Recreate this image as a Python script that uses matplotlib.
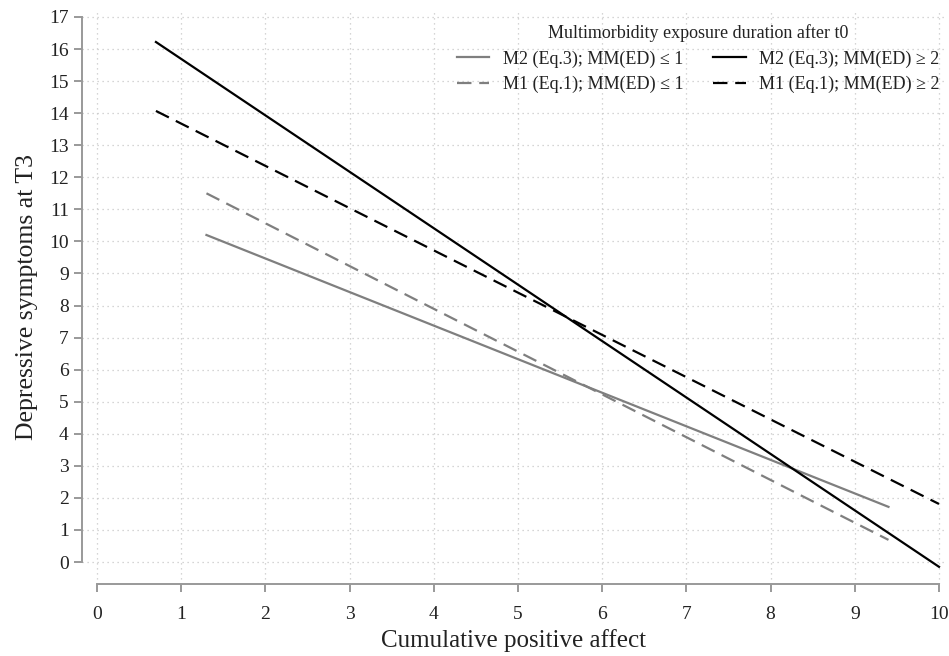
import matplotlib.pyplot as plt

plt.rcParams['font.family'] = ['Liberation Serif', 'DejaVu Serif']

# end points of the predicted lines (x = cumulative positive affect)
x_low = [1.3, 9.4]
x_high = [0.7, 10.0]
m2_low = [10.2, 1.72]
m1_low = [11.5, 0.69]
m2_high = [16.22, -0.15]
m1_high = [14.07, 1.81]

xticks = list(range(0, 11))
yticks = list(range(0, 18))

fig = plt.figure(figsize=(9.49, 6.56), dpi=100)
ax = fig.add_axes([82 / 949, 1 - 584 / 656, (945 - 82) / 949, (584 - 10) / 656])

gray = '#7f7f7f'
ax.plot(x_low, m2_low, color=gray, lw=1.6, label='M2 (Eq.3); MM(ED) \u2264 1')
ax.plot(x_low, m1_low, color=gray, lw=1.6, dashes=(6.5, 3.5), label='M1 (Eq.1); MM(ED) \u2264 1')
ax.plot(x_high, m2_high, color='black', lw=1.6, label='M2 (Eq.3); MM(ED) \u2265 2')
ax.plot(x_high, m1_high, color='black', lw=1.6, dashes=(6.5, 3.5), label='M1 (Eq.1); MM(ED) \u2265 2')

ax.set_xlim(-15 / 84.2, 10 + 6 / 84.2)
ax.set_ylim(-22 / 32.06, 17 + 7 / 32.06)
ax.set_xticks(xticks)
ax.set_yticks(yticks)
ax.grid(True, color='#c8c8c8', linestyle=(0, (1, 3)), lw=0.9)
ax.set_axisbelow(True)

for s in ['top', 'right']:
    ax.spines[s].set_visible(False)
ax.spines['left'].set_bounds(0, 17)
ax.spines['bottom'].set_bounds(0, 10)
for s in ['left', 'bottom']:
    ax.spines[s].set_color('#999999')
    ax.spines[s].set_linewidth(1.4)
ax.tick_params(colors='#999999', labelcolor='#222222', labelsize=14, width=1.4, length=6)
ax.tick_params(axis='x', pad=10)

ax.set_xlabel('Cumulative positive affect', fontsize=18, color='#222222', labelpad=4)
ax.set_ylabel('Depressive symptoms at T3', fontsize=18.5, color='#222222', labelpad=8)

leg = ax.legend(ncol=2, frameon=False, fontsize=13, title='Multimorbidity exposure duration after t0',
                title_fontsize=13, loc='upper right', bbox_to_anchor=(947 / 949, 1 - 17 / 656),
                bbox_transform=fig.transFigure, borderaxespad=0,
                handlelength=1.8, columnspacing=1.65, handletextpad=0.75, labelspacing=0.45)
for t in leg.get_texts():
    t.set_color('#222222')
leg.get_title().set_color('#222222')

fig.savefig('out.png', dpi=100)
